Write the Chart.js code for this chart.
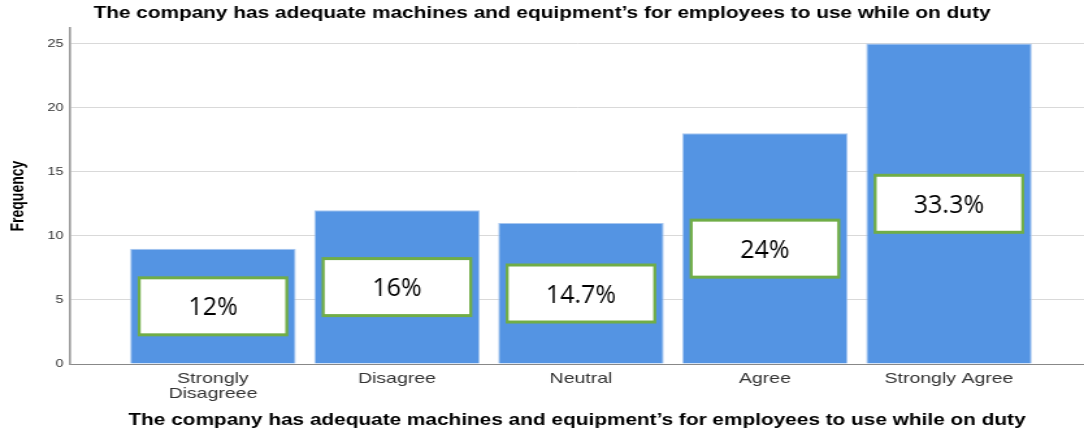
<!DOCTYPE html>
<html>
<head>
<meta charset="utf-8">
<script src="https://cdn.jsdelivr.net/npm/chart.js@4/dist/chart.umd.min.js"></script>
<style>
html,body{margin:0;padding:0;background:#fff;overflow:hidden;}
#c{display:block;width:1084px;height:432px;}
</style>
</head>
<body>
<canvas id="c" width="834" height="432" style="width:1084px;height:432px;"></canvas>
<script>
const categories = [["Strongly", "Disagreee"], "Disagree", "Neutral", "Agree", "Strongly Agree"];
const frequency = [9, 12, 11, 18, 25];
const pctLabels = ["12%", "16%", "14.7%", "24%", "33.3%"];
const yTicks = [0, 5, 10, 15, 20, 25];
const titleText = "The company has adequate machines and equipment\u2019s for employees to use while on duty";
const yTitle = "Frequency";

// The reference picture is stretched horizontally; the chart is drawn narrower and widened by CSS.
const SX = 1084 / 834;

const boxPlugin = {
  id: 'pctBoxes',
  afterDatasetsDraw(chart) {
    const ctx = chart.ctx;
    const meta = chart.getDatasetMeta(0);
    const ys = chart.scales.y;
    meta.data.forEach((bar, i) => {
      const w = bar.width - 18 / SX;
      const h = 57;
      const cy = ys.getPixelForValue(frequency[i] / 2);
      const x0 = bar.x - w / 2, y0 = cy - h / 2;
      const bw = 3;
      ctx.save();
      ctx.fillStyle = '#70AD47';
      ctx.fillRect(x0 - bw / SX / 2, y0 - bw / 2, w + bw / SX, h + bw);
      ctx.fillStyle = '#ffffff';
      ctx.fillRect(x0 + bw / SX / 2, y0 + bw / 2, w - bw / SX, h - bw);
      ctx.translate(bar.x, cy + 2);
      ctx.scale(1 / SX, 1);
      ctx.fillStyle = '#000000';
      ctx.font = '25px "Open Sans"';
      ctx.textAlign = 'center';
      ctx.textBaseline = 'middle';
      ctx.fillText(pctLabels[i], 0, 0);
      ctx.restore();
    });
  }
};

new Chart(document.getElementById('c'), {
  type: 'bar',
  data: {
    datasets: [{
      data: frequency.map((v, i) => ({x: i, y: v})),
      backgroundColor: '#5494E3',
      borderColor: '#A6C6EF',
      borderWidth: 1,
      categoryPercentage: 1,
      barPercentage: 0.9
    }]
  },
  plugins: [boxPlugin],
  options: {
    responsive: false,
    animation: false,
    devicePixelRatio: 1,
    layout: {padding: {left: 0, right: 0, top: 0, bottom: 0}},
    plugins: {
      legend: {display: false},
      tooltip: {enabled: false},
      title: {
        display: true,
        text: titleText,
        color: '#000',
        font: {family: 'Liberation Sans', weight: 'bold', size: 16},
        padding: {top: 4, bottom: 5}
      }
    },
    scales: {
      x: {
        type: 'linear',
        offset: false,
        min: -0.777,
        max: 4.734,
        afterBuildTicks(scale) { scale.ticks = categories.map((c, i) => ({value: i})); },
        afterFit(scale) { scale.height = 68; },
        grid: {display: false, drawTicks: false},
        border: {display: true, color: '#888', width: 1},
        ticks: {
          callback: (v) => categories[v],
          color: '#333',
          font: {family: 'Liberation Sans', size: 15, lineHeight: 0.95},
          padding: 8,
          maxRotation: 0,
          autoSkip: false
        },
        title: {
          display: true,
          text: titleText,
          color: '#000',
          font: {family: 'Liberation Sans', weight: 'bold', size: 16},
          padding: {top: 0, bottom: 2}
        }
      },
      y: {
        min: 0,
        max: 26.2,
        afterBuildTicks(scale) { scale.ticks = yTicks.map(v => ({value: v})); },
        afterFit(scale) { scale.width = 70 / SX; },
        grid: {color: '#d9d9d9', drawTicks: false},
        border: {display: true, color: '#999', width: 1.6},
        ticks: {
          color: '#333',
          font: {family: 'Liberation Sans', size: 11},
          padding: 5
        },
        title: {
          display: true,
          text: yTitle,
          color: '#000',
          font: {family: 'Liberation Sans', weight: 'bold', size: 14},
          padding: {top: 6, bottom: 0}
        }
      }
    }
  }
});
</script>
</body>
</html>
